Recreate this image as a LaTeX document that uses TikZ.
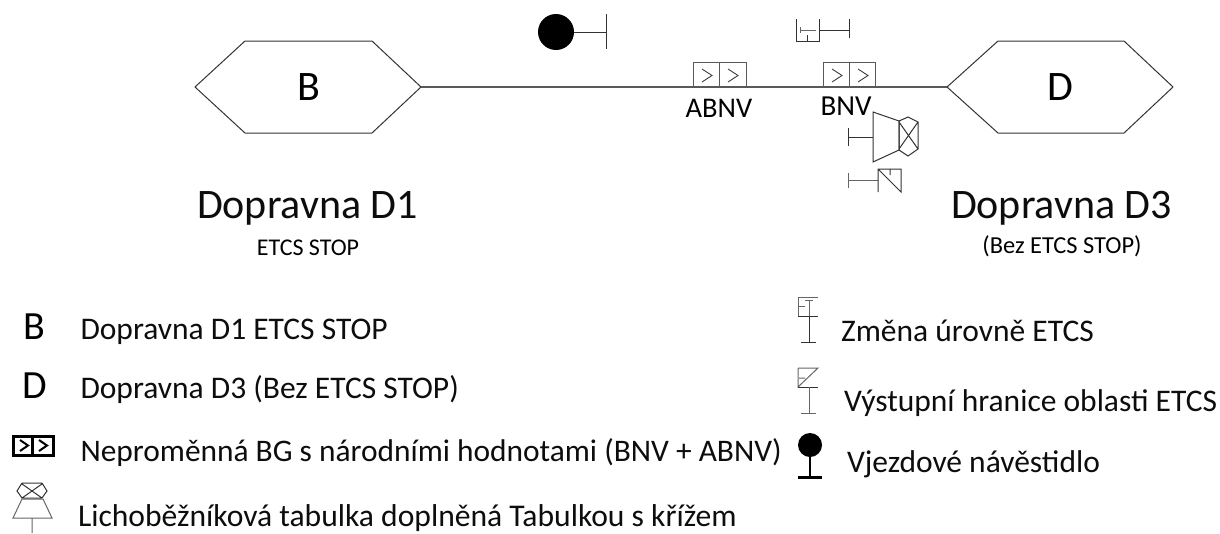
\documentclass[tikz,border=0pt]{standalone}
\usepackage{fontspec}
\setmainfont{Carlito}
\tikzset{
  x=1pt,y=-1pt,
  sym/.style={draw=black!80,line width=1pt},
  symg/.style={draw=black!60,line width=1pt},
  txt/.style={anchor=base west,inner sep=0pt,outer sep=0pt,text=black!95,font=\fontsize{#1}{#1}\selectfont},
  lab/.style={anchor=center,inner sep=0pt,outer sep=0pt,font=\fontsize{#1}{#1}\selectfont},
  chev/.style={draw=black!75,line width=0.9pt,line join=miter},
  bgbox/.style={draw=black!65,line width=1pt},
  blackdot/.style={circle,fill=black,inner sep=0pt,outer sep=0pt,minimum size=#1},
}
\begin{document}
\begin{tikzpicture}
\useasboundingbox (0,0) rectangle (1220,533);
% hexagons
\coordinate (bR) at (421,87);
\coordinate (dL) at (947,87);
\draw[sym] (195,87)--(245,41)--(372,41)--(bR)--(372,133)--(245,133)--cycle;
\draw[sym] (dL)--(998,41)--(1124,41)--(1173,87)--(1124,133)--(998,133)--cycle;
\node[lab=42] (hb) at (309,87) {B};
\node[lab=42] (hd) at (1060,87) {D};
\draw[draw=black!65,line width=1.5pt] (bR)--(dL);
% balises
\draw[bgbox] (693,88)--(693,62)--(746,62)--(746,88) (719.5,62)--(719.5,88);
\draw[chev] (702,69)--(712,75.5)--(702,82) (728,69)--(738,75.5)--(728,82);
\draw[bgbox] (823,88)--(823,62)--(875,62)--(875,88) (849,62)--(849,88);
\draw[chev] (832,69)--(842,75.5)--(832,82) (858,69)--(868,75.5)--(858,82);
\node[lab=28.5] (abnv) at (719,108) {ABNV};
\node[lab=29] (bnv) at (846,106) {BNV};
% entry signal
\node[blackdot=36] (sig) at (556,32) {};
\coordinate (sigbar) at (606,32);
\draw[sym] (sig.east)--(sigbar) (606,14)--(606,49);
% level change, top
\draw[sym] (796,19)--(796,41)--(819,41)--(819,19) (807,35)--(807,41);
\draw[symg] (800,27)--(800,33) (800,30)--(816,30);
\draw[sym] (819,30)--(849,30) (849,19)--(849,38);
% trapezoid with cross
\draw[sym] (848,137)--(873,137) (848,128)--(848,146);
\draw[sym] (873,112)--(899,121)--(899,150)--(873,162)--cycle;
\draw[sym] (899,121)--(908,117)--(918,122)--(918,149)--(908,156)--(899,150)--cycle (899,122)--(918,149) (918,122)--(899,149);
% exit boundary
\draw[symg] (848,180)--(878,180) (848,173)--(848,188);
\draw[sym] (878,192)--(878,169)--(901,169)--(901,192)--(878,169) (890,169)--(890,175);
% captions
\node[txt=42] (d1) at (197,218) {Dopravna D1};
\node[lab=24] (d1s) at (308,248) {ETCS STOP};
\node[txt=42] (d3) at (951,218) {Dopravna D3};
\node[lab=24.4] (d3s) at (1062,246) {(Bez ETCS STOP)};
% legend left
\node[lab=40] (lb) at (34,327) {B};
\node[lab=40] (ld) at (35,386) {D};
\node[txt=31.5] (t1) at (80.5,339) {Dopravna D1 ETCS STOP};
\node[txt=31.5] (t2) at (80.5,398) {Dopravna D3 (Bez ETCS STOP)};
\node[txt=31.4] (t3) at (80.5,461) {Neproměnná BG s národními hodnotami (BNV + ABNV)};
\node[txt=31.6] (t4) at (78,526.5) {Lichoběžníková tabulka doplněná Tabulkou s křížem};
\draw[black,line width=3pt] (13,436) rectangle (53,455) (32.5,436)--(32.5,455);
\draw[black,line width=2pt] (20,440)--(28,445.5)--(20,451) (39,440)--(47,445.5)--(39,451);
\draw[sym] (17,491)--(22,483)--(42,483)--(47,491)--(42,498)--(22,498)--cycle (22,484)--(42,498) (42,484)--(22,498);
\draw[symg] (22,499)--(43,499)--(52,518)--(13,518)--cycle (32,518)--(32,533);
% legend right
\draw[symg] (798,297)--(818,297) (798,297)--(798,316);
\draw[sym] (798,316)--(818,316) (809,316)--(809,342) (801,342)--(816,342);
\draw[symg] (799,306)--(805,306) (805,300)--(813,300) (809,300)--(809,316);
\draw[symg] (798,368)--(818,368)--(798,387)--(798,368) (799,378)--(805,378);
\draw[sym] (798,387)--(818,387);
\draw[symg] (809,387)--(809,413) (801,413)--(816,413);
\node[blackdot=24] (ls) at (810,445) {};
\coordinate (lsf) at (810,477);
\draw[black,line width=2pt] (ls)--(lsf);
\draw[black,line width=3pt] (798,477)--(822,477);
\node[txt=31.5] (t5) at (841,341) {Změna úrovně ETCS};
\node[txt=31.5] (t6) at (844,411) {Výstupní hranice oblasti ETCS};
\node[txt=31.5] (t7) at (847,472) {Vjezdové návěstidlo};
\end{tikzpicture}
\end{document}
